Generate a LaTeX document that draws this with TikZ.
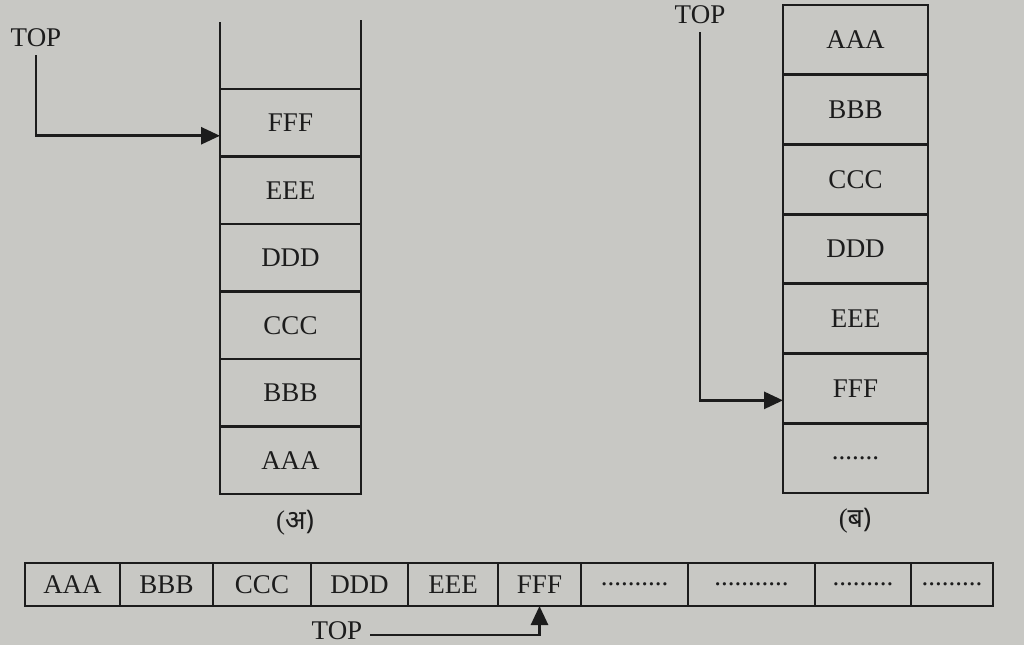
\documentclass[tikz,border=0pt]{standalone}
\usepackage{fontspec}
\setmainfont{Liberation Serif}
\newfontfamily\deva[Script=Devanagari]{Noto Sans}
\usetikzlibrary{arrows.meta,positioning}
\definecolor{paper}{RGB}{200,200,196}
\definecolor{ink}{RGB}{28,28,28}

\begin{document}
\begin{tikzpicture}[x=0.5pt,y=-0.5pt,>={Triangle[length=9.5pt,width=8.5pt]},
                    line width=1.4pt,color=ink,font=\fontsize{13.5}{16}\selectfont,
                    lcell/.style={draw,outer sep=0pt,inner sep=0pt,minimum width=70.5pt,minimum height=33.75pt},
                    rcell/.style={draw,outer sep=0pt,inner sep=0pt,minimum width=72.5pt,minimum height=34.85pt},
                    bcell/.style={draw,outer sep=0pt,inner sep=0pt,minimum height=21.5pt}]

  \useasboundingbox[fill=paper] (0,0) rectangle (1024,645);

  % (a) stack, open at the top
  \node[lcell] (fA) at (290.5,122.75) {FFF};
  \node[lcell] (eA) [below=0pt of fA] {EEE};
  \node[lcell] (dA) [below=0pt of eA] {DDD};
  \node[lcell] (cA) [below=0pt of dA] {CCC};
  \node[lcell] (bA) [below=0pt of cA] {BBB};
  \node[lcell] (aA) [below=0pt of bA] {AAA};
  \draw (fA.north west) -- ++(0,-67);
  \draw (fA.north east) -- ++(0,-69);
  \node (capA) at (295,523) {(\deva अ)};

  \node (topA) at (36,38) {TOP};
  \draw[->] (topA.south) |- ([yshift=-6.5pt]fA.west);

  % (b) stack
  \node[rcell] (aB) at (855.5,39.85) {AAA};
  \node[rcell] (bB) [below=0pt of aB] {BBB};
  \node[rcell] (cB) [below=0pt of bB] {CCC};
  \node[rcell] (dB) [below=0pt of cB] {DDD};
  \node[rcell] (eB) [below=0pt of dB] {EEE};
  \node[rcell] (fB) [below=0pt of eB] {FFF};
  \node[rcell] (gB) [below=0pt of fB] {.......};
  \node (capB) at (855,521) {(\deva ब)};

  \node (topB) at (700,15) {TOP};
  \draw[->] (topB.south) |- ([yshift=-6pt]fB.west);

  % array
  \node[bcell,minimum width=47.5pt] (aC) at (72.5,584.5) {AAA};
  \node[bcell,minimum width=46.5pt] (bC) [right=0pt of aC] {BBB};
  \node[bcell,minimum width=49pt] (cC) [right=0pt of bC] {CCC};
  \node[bcell,minimum width=48.5pt] (dC) [right=0pt of cC] {DDD};
  \node[bcell,minimum width=45pt] (eC) [right=0pt of dC] {EEE};
  \node[bcell,minimum width=41.5pt] (fC) [right=0pt of eC] {FFF};
  \node[bcell,minimum width=53.5pt] (gC) [right=0pt of fC] {..........};
  \node[bcell,minimum width=63.5pt] (hC) [right=0pt of gC] {...........};
  \node[bcell,minimum width=48pt] (iC) [right=0pt of hC] {.........};
  \node[bcell,minimum width=41pt] (jC) [right=0pt of iC] {.........};

  \node (topC) at (337,631) {TOP};
  \draw[->] ([yshift=-2pt]topC.east) -| (fC.south);
\end{tikzpicture}
\end{document}
